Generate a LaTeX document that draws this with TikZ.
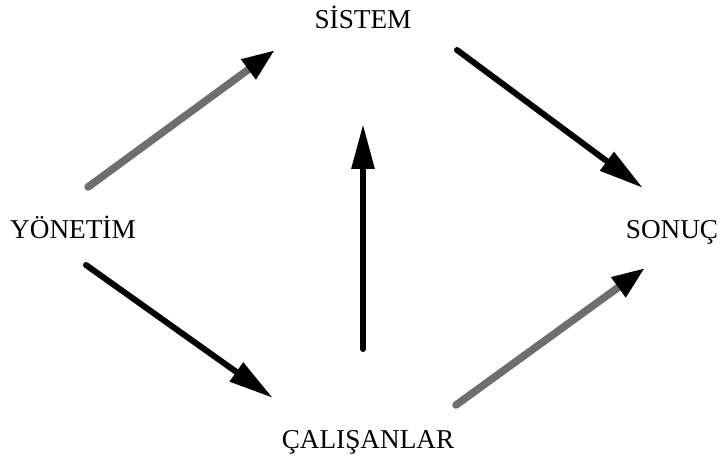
\documentclass[tikz,border=0pt]{standalone}
\usepackage{fontspec}
\setmainfont{Liberation Serif}
\usetikzlibrary{arrows.meta}
\definecolor{inkblack}{HTML}{000000}
\definecolor{dotgrey}{HTML}{6E6E6E}

\begin{document}
\begin{tikzpicture}[
      x=0.02cm,y=0.02cm,
      term/.style={
        anchor=base,
        inner sep=0pt,
        font=\fontsize{15.5}{17}\selectfont
      },
      solidarr/.style={-{Triangle[length=0.9cm,width=0.44cm]},line width=0.12cm,draw=inkblack,line cap=round},
      greyarr/.style={-{Triangle[length=0.66cm,width=0.46cm,color=inkblack]},line width=0.15cm,draw=dotgrey,line cap=round}
    ]
    \useasboundingbox (0,0) rectangle (722,-471);
    % terms
    \node[term] (sistem) at (363,-28) {SİSTEM};
    \node[term] (yonetim) at (73,-238) {YÖNETİM};
    \node[term] (sonuc) at (672,-238) {SONUÇ};
    \node[term] (calisanlar) at (368,-448) {ÇALIŞANLAR};
    % arrow ends
    \coordinate (yonUp) at (88,-187);
    \coordinate (sisIn) at (275,-50);
    \coordinate (sisOut) at (457,-50);
    \coordinate (sonIn) at (643,-188);
    \coordinate (yonDown) at (86,-265);
    \coordinate (calIn) at (273,-398);
    \coordinate (calUp) at (363,-349);
    \coordinate (sisBelow) at (363,-124);
    \coordinate (calOut) at (456,-405);
    \coordinate (sonBelow) at (645,-268);
    % connectors
    \draw[greyarr] (yonUp) -- (sisIn);
    \draw[solidarr] (sisOut) -- (sonIn);
    \draw[solidarr] (yonDown) -- (calIn);
    \draw[solidarr] (calUp) -- (sisBelow);
    \draw[greyarr] (calOut) -- (sonBelow);
  \end{tikzpicture}
\end{document}
